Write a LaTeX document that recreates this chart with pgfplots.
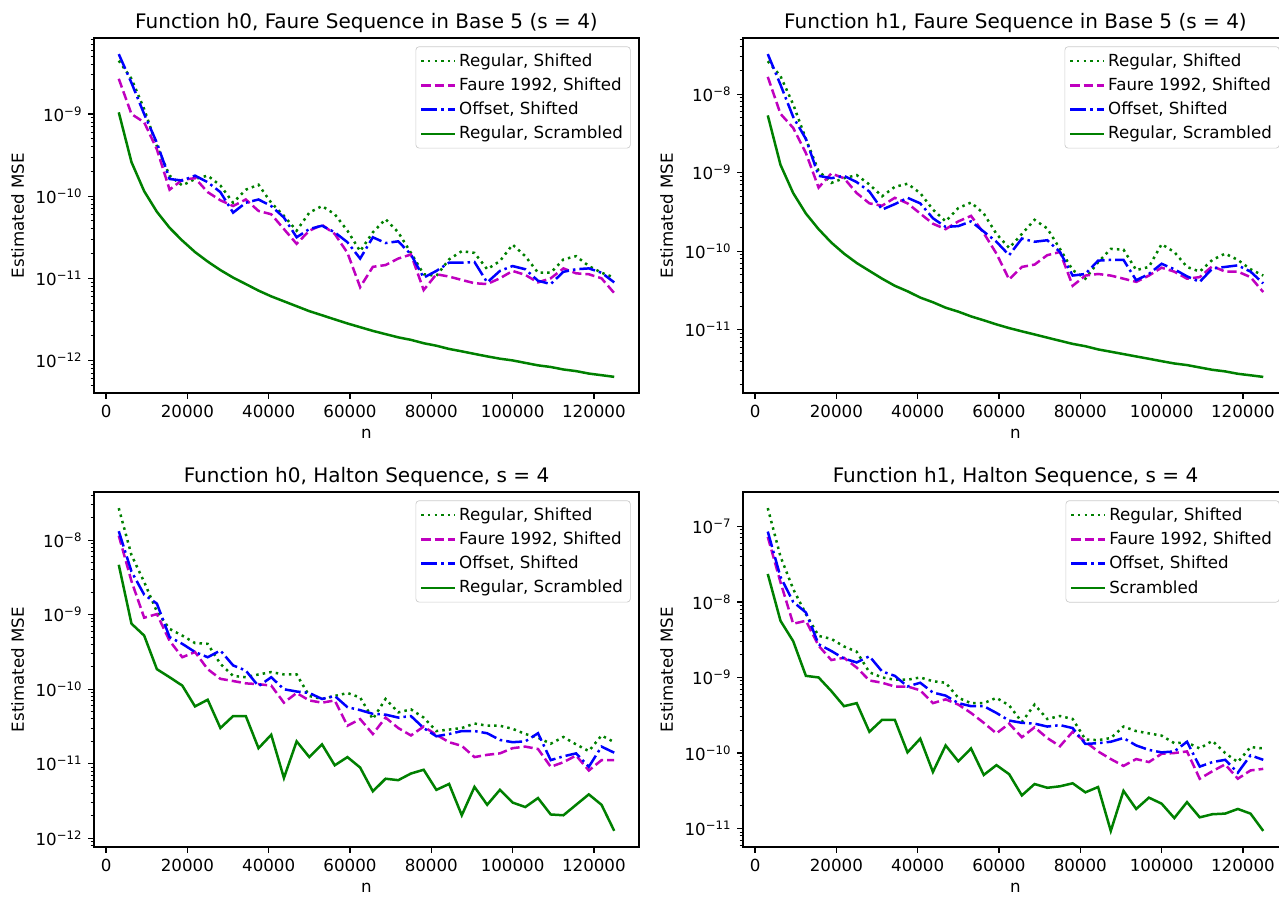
\documentclass[border=0pt]{standalone}
\usepackage{fontspec}
\setmainfont{DejaVu Sans}
\usepackage{pgfplots}
\usepackage{pgfplotstable}
\pgfplotsset{compat=1.18}

\definecolor{mplg}{rgb}{0,0.5,0}
\definecolor{mplm}{rgb}{0.75,0,0.75}
\definecolor{mplb}{rgb}{0,0,1}

% columns: n, regular shifted, faure 1992 shifted, offset shifted, scrambled
\pgfplotstableread{
n rs f92 off scr
3125 4.47e-9 2.69e-9 5.37e-9 1.05e-9
6250 2.69e-9 1.00e-9 2.40e-9 2.60e-10
9375 1.15e-9 7.94e-10 1.00e-9 1.15e-10
12500 4.07e-10 3.72e-10 4.47e-10 6.46e-11
15625 1.78e-10 1.20e-10 1.62e-10 4.12e-11
18750 1.35e-10 1.58e-10 1.55e-10 2.88e-11
21875 1.62e-10 1.66e-10 1.78e-10 2.09e-11
25000 1.78e-10 1.12e-10 1.48e-10 1.60e-11
28125 1.35e-10 8.91e-11 1.12e-10 1.26e-11
31250 8.32e-11 7.59e-11 6.31e-11 1.02e-11
34375 1.20e-10 9.12e-11 8.32e-11 8.51e-12
37500 1.38e-10 6.61e-11 9.12e-11 7.08e-12
40625 8.32e-11 6.03e-11 7.59e-11 6.03e-12
43750 5.75e-11 3.98e-11 5.50e-11 5.25e-12
46875 3.80e-11 2.63e-11 3.16e-11 4.57e-12
50000 6.31e-11 3.80e-11 3.98e-11 3.98e-12
53125 7.59e-11 4.47e-11 4.37e-11 3.55e-12
56250 6.03e-11 3.47e-11 3.63e-11 3.16e-12
59375 3.80e-11 2.04e-11 2.75e-11 2.82e-12
62500 2.14e-11 7.80e-12 1.74e-11 2.54e-12
65625 3.63e-11 1.38e-11 3.16e-11 2.29e-12
68750 5.25e-11 1.45e-11 2.69e-11 2.09e-12
71875 3.63e-11 1.74e-11 2.82e-11 1.91e-12
75000 2.04e-11 1.95e-11 1.95e-11 1.78e-12
78125 1.12e-11 7.20e-12 1.02e-11 1.62e-12
81250 1.07e-11 1.12e-11 1.23e-11 1.51e-12
84375 1.70e-11 1.05e-11 1.55e-11 1.38e-12
87500 2.14e-11 9.55e-12 1.55e-11 1.29e-12
90625 2.04e-11 8.71e-12 1.58e-11 1.20e-12
93750 1.29e-11 8.51e-12 8.91e-12 1.12e-12
96875 1.62e-11 1.00e-11 1.23e-11 1.05e-12
100000 2.57e-11 1.23e-11 1.41e-11 1.00e-12
103125 1.86e-11 1.10e-11 1.29e-11 9.33e-13
106250 1.17e-11 8.91e-12 9.33e-12 8.71e-13
109375 1.17e-11 1.00e-11 8.51e-12 8.32e-13
112500 1.70e-11 1.32e-11 1.20e-11 7.76e-13
115625 1.86e-11 1.15e-11 1.29e-11 7.41e-13
118750 1.41e-11 1.12e-11 1.32e-11 6.92e-13
121875 1.17e-11 1.00e-11 1.17e-11 6.61e-13
125000 1.02e-11 6.61e-12 8.91e-12 6.31e-13
}\tabTL

\pgfplotstableread{
n rs f92 off scr
3125 2.63e-8 1.66e-8 3.24e-8 5.37e-9
6250 1.70e-8 5.62e-9 1.32e-8 1.26e-9
9375 7.41e-9 3.72e-9 5.13e-9 5.50e-10
12500 2.69e-9 1.78e-9 2.69e-9 3.02e-10
15625 1.05e-9 6.46e-10 9.12e-10 1.91e-10
18750 7.41e-10 9.77e-10 8.51e-10 1.29e-10
21875 8.51e-10 8.51e-10 9.12e-10 9.33e-11
25000 9.33e-10 5.50e-10 7.59e-10 7.08e-11
28125 7.08e-10 4.07e-10 5.75e-10 5.62e-11
31250 5.01e-10 3.80e-10 3.39e-10 4.47e-11
34375 6.61e-10 4.79e-10 3.98e-10 3.63e-11
37500 7.24e-10 4.07e-10 4.79e-10 3.09e-11
40625 5.50e-10 3.02e-10 4.07e-10 2.57e-11
43750 3.39e-10 2.24e-10 2.63e-10 2.24e-11
46875 2.40e-10 1.91e-10 2.04e-10 1.91e-11
50000 3.55e-10 2.40e-10 2.09e-10 1.70e-11
53125 4.17e-10 2.82e-10 2.40e-10 1.48e-11
56250 3.02e-10 1.70e-10 1.78e-10 1.32e-11
59375 1.66e-10 9.33e-11 1.32e-10 1.17e-11
62500 1.10e-10 4.37e-11 8.91e-11 1.05e-11
65625 1.66e-10 6.31e-11 1.45e-10 9.55e-12
68750 2.51e-10 6.76e-11 1.32e-10 8.71e-12
71875 1.95e-10 8.91e-11 1.38e-10 7.94e-12
75000 1.07e-10 9.77e-11 9.77e-11 7.24e-12
78125 5.75e-11 3.63e-11 4.90e-11 6.61e-12
81250 4.47e-11 4.90e-11 5.13e-11 6.17e-12
84375 7.24e-11 5.13e-11 7.59e-11 5.62e-12
87500 1.07e-10 4.90e-11 7.76e-11 5.25e-12
90625 1.05e-10 4.47e-11 7.76e-11 4.90e-12
93750 5.75e-11 4.07e-11 4.27e-11 4.57e-12
96875 6.31e-11 4.90e-11 5.13e-11 4.27e-12
100000 1.23e-10 6.17e-11 6.92e-11 3.98e-12
103125 9.77e-11 5.50e-11 5.89e-11 3.72e-12
106250 6.31e-11 4.47e-11 4.79e-11 3.55e-12
109375 5.50e-11 4.68e-11 4.07e-11 3.31e-12
112500 7.76e-11 6.46e-11 6.03e-11 3.09e-12
115625 9.33e-11 5.50e-11 6.31e-11 2.95e-12
118750 7.76e-11 5.50e-11 6.61e-11 2.75e-12
121875 5.89e-11 4.68e-11 5.50e-11 2.63e-12
125000 4.90e-11 3.02e-11 3.89e-11 2.51e-12
}\tabTR

\pgfplotstableread{
n rs f92 off scr
3125 2.69e-8 1.15e-8 1.32e-8 4.68e-9
6250 6.31e-9 2.82e-9 3.80e-9 7.59e-10
9375 2.75e-9 9.12e-10 1.86e-9 5.25e-10
12500 1.10e-9 1.02e-9 1.41e-9 1.86e-10
15625 6.46e-10 4.47e-10 5.01e-10 1.45e-10
18750 5.25e-10 2.69e-10 4.07e-10 1.12e-10
21875 4.17e-10 3.16e-10 3.16e-10 5.89e-11
25000 4.07e-10 1.86e-10 2.69e-10 7.24e-11
28125 2.19e-10 1.38e-10 3.31e-10 3.02e-11
31250 1.51e-10 1.29e-10 2.09e-10 4.37e-11
34375 1.45e-10 1.20e-10 1.78e-10 4.37e-11
37500 1.58e-10 1.17e-10 1.10e-10 1.62e-11
40625 1.70e-10 1.12e-10 1.45e-10 2.45e-11
43750 1.58e-10 6.61e-11 1.00e-10 6.46e-12
46875 1.58e-10 8.91e-11 9.33e-11 2.00e-11
50000 8.13e-11 7.08e-11 8.91e-11 1.23e-11
53125 7.41e-11 6.61e-11 7.41e-11 1.82e-11
56250 8.13e-11 7.08e-11 8.13e-11 9.55e-12
59375 8.91e-11 3.24e-11 5.75e-11 1.23e-11
62500 7.76e-11 3.98e-11 5.25e-11 8.91e-12
65625 3.98e-11 2.51e-11 4.68e-11 4.27e-12
68750 7.41e-11 4.17e-11 4.57e-11 6.31e-12
71875 4.90e-11 3.02e-11 4.17e-11 6.03e-12
75000 5.37e-11 2.40e-11 4.37e-11 7.41e-12
78125 4.17e-11 3.16e-11 3.02e-11 8.32e-12
81250 2.75e-11 2.45e-11 2.34e-11 4.47e-12
84375 2.88e-11 1.95e-11 2.51e-11 5.37e-12
87500 3.02e-11 1.74e-11 2.75e-11 2.04e-12
90625 3.47e-11 1.23e-11 2.75e-11 4.90e-12
93750 3.24e-11 1.32e-11 2.57e-11 2.82e-12
96875 3.24e-11 1.38e-11 2.09e-11 4.47e-12
100000 2.95e-11 1.62e-11 1.95e-11 3.02e-12
103125 2.51e-11 1.70e-11 2.00e-11 2.63e-12
106250 2.24e-11 1.58e-11 2.57e-11 3.47e-12
109375 1.86e-11 9.12e-12 1.12e-11 2.09e-12
112500 2.29e-11 1.05e-11 1.26e-11 2.04e-12
115625 1.82e-11 1.29e-11 1.38e-11 2.82e-12
118750 1.48e-11 8.13e-12 9.12e-12 3.89e-12
121875 2.40e-11 1.12e-11 1.70e-11 2.82e-12
125000 1.95e-11 1.12e-11 1.41e-11 1.26e-12
}\tabBL

\pgfplotstableread{
n rs f92 off scr
3125 1.74e-7 7.24e-8 8.51e-8 2.34e-8
6250 3.98e-8 1.82e-8 2.14e-8 5.62e-9
9375 1.48e-8 5.13e-9 1.00e-8 3.02e-9
12500 6.92e-9 5.62e-9 7.24e-9 1.05e-9
15625 3.55e-9 2.63e-9 2.75e-9 1.00e-9
18750 3.24e-9 1.70e-9 2.24e-9 6.61e-10
21875 2.57e-9 1.82e-9 1.78e-9 4.17e-10
25000 2.19e-9 1.35e-9 1.58e-9 4.57e-10
28125 1.17e-9 9.12e-10 1.91e-9 1.91e-10
31250 1.00e-9 8.51e-10 1.20e-9 2.75e-10
34375 9.33e-10 7.59e-10 1.05e-9 2.75e-10
37500 9.33e-10 7.59e-10 7.59e-10 1.02e-10
40625 1.00e-9 6.76e-10 8.51e-10 1.55e-10
43750 8.91e-10 4.57e-10 6.31e-10 5.62e-11
46875 8.51e-10 5.13e-10 5.75e-10 1.26e-10
50000 5.37e-10 4.37e-10 4.57e-10 7.76e-11
53125 4.57e-10 3.39e-10 4.17e-10 1.15e-10
56250 4.57e-10 2.51e-10 4.17e-10 5.13e-11
59375 5.37e-10 1.82e-10 3.39e-10 6.92e-11
62500 4.27e-10 2.45e-10 2.69e-10 5.25e-11
65625 2.57e-10 1.62e-10 2.51e-10 2.75e-11
68750 4.37e-10 2.19e-10 2.45e-10 3.89e-11
71875 2.82e-10 1.58e-10 2.24e-10 3.47e-11
75000 3.09e-10 1.23e-10 2.34e-10 3.63e-11
78125 2.82e-10 1.91e-10 2.14e-10 3.98e-11
81250 1.51e-10 1.41e-10 1.32e-10 3.02e-11
84375 1.48e-10 1.05e-10 1.35e-10 3.55e-11
87500 1.58e-10 8.32e-11 1.41e-10 9.33e-12
90625 2.24e-10 6.76e-11 1.58e-10 3.16e-11
93750 1.95e-10 8.32e-11 1.26e-10 1.82e-11
96875 1.82e-10 7.59e-11 1.10e-10 2.57e-11
100000 1.70e-10 9.77e-11 1.02e-10 2.14e-11
103125 1.35e-10 1.00e-10 1.05e-10 1.38e-11
106250 1.38e-10 1.05e-10 1.41e-10 2.24e-11
109375 1.15e-10 4.57e-11 6.61e-11 1.41e-11
112500 1.45e-10 5.75e-11 7.59e-11 1.55e-11
115625 1.00e-10 7.08e-11 8.13e-11 1.58e-11
118750 7.59e-11 4.57e-11 5.50e-11 1.82e-11
121875 1.20e-10 5.89e-11 9.33e-11 1.58e-11
125000 1.15e-10 6.17e-11 8.13e-11 9.33e-12
}\tabBR

\pgfplotsset{
  every axis/.append style={
    scale only axis, width=327pt, height=213pt,
    anchor=south west,
    xmin=-2968.75, xmax=131093.75,
    xtick={0,20000,40000,60000,80000,100000,120000},
    scaled x ticks=false,
    xticklabel={\pgfmathprintnumber[fixed,precision=0,1000 sep={},assume math mode=true]{\tick}},
    yticklabel={\pgfmathtruncatemacro{\myexp}{round(-\tick)}10\textsuperscript{−\myexp}},
    tick align=outside, tick pos=left,
    major tick length=3.5pt, minor tick length=2pt,
    every tick/.style={black, line width=0.8pt},
    every minor tick/.style={black, line width=0.6pt},
    axis line style={black, line width=0.8pt},
    tick label style={font=\fontsize{10}{12}\selectfont},
    label style={font=\fontsize{10}{12}\selectfont},
    title style={font=\fontsize{12}{14.4}\selectfont, anchor=base},
    xlabel={n}, ylabel={Estimated MSE},
    legend style={at={(1,1)}, xshift=-5pt, yshift=-5pt, anchor=north east,
      draw=black!20, rounded corners=2pt, fill=white,
      font=\fontsize{10}{12}\selectfont, inner xsep=2.5pt, inner ysep=2pt,
      row sep=1.5pt, cells={anchor=west}},
  },
  legend image code/.code={\draw[#1] (0pt,0pt) -- (20pt,0pt);},
  rsline/.style={mplg, line width=1.5pt, dash pattern=on 1.5pt off 2.475pt},
  fline/.style={mplm, line width=1.5pt, dash pattern=on 5.55pt off 2.4pt},
  oline/.style={mplb, line width=1.5pt, dash pattern=on 9.6pt off 2.4pt on 1.5pt off 2.4pt},
  sline/.style={mplg, line width=1.5pt, solid},
}

\begin{document}
\begin{tikzpicture}

\begin{axis}[ymode=log, log basis y=10, at={(56.4pt,302.4pt)},
  ymin=4.01e-13, ymax=8.44e-9,
  title={Function h0, Faure Sequence in Base 5 (s = 4)}]
\addplot[rsline] table[x=n,y=rs] {\tabTL};
\addplot[fline] table[x=n,y=f92] {\tabTL};
\addplot[oline] table[x=n,y=off] {\tabTL};
\addplot[sline] table[x=n,y=scr] {\tabTL};
\legend{{Regular, Shifted}, {Faure 1992, Shifted}, {Offset, Shifted}, {Regular, Scrambled}}
\end{axis}

\begin{axis}[ymode=log, log basis y=10, at={(445.8pt,302.4pt)},
  ymin=1.565e-12, ymax=5.19e-8,
  title={Function h1, Faure Sequence in Base 5 (s = 4)}]
\addplot[rsline] table[x=n,y=rs] {\tabTR};
\addplot[fline] table[x=n,y=f92] {\tabTR};
\addplot[oline] table[x=n,y=off] {\tabTR};
\addplot[sline] table[x=n,y=scr] {\tabTR};
\legend{{Regular, Shifted}, {Faure 1992, Shifted}, {Offset, Shifted}, {Regular, Scrambled}}
\end{axis}

\begin{axis}[ymode=log, log basis y=10, at={(56.4pt,30pt)},
  ymin=7.65e-13, ymax=4.43e-8,
  title={Function h0, Halton Sequence, s = 4}]
\addplot[rsline] table[x=n,y=rs] {\tabBL};
\addplot[fline] table[x=n,y=f92] {\tabBL};
\addplot[oline] table[x=n,y=off] {\tabBL};
\addplot[sline] table[x=n,y=scr] {\tabBL};
\legend{{Regular, Shifted}, {Faure 1992, Shifted}, {Offset, Shifted}, {Regular, Scrambled}}
\end{axis}

\begin{axis}[ymode=log, log basis y=10, at={(445.8pt,30pt)},
  ymin=5.71e-12, ymax=2.84e-7,
  title={Function h1, Halton Sequence, s = 4}]
\addplot[rsline] table[x=n,y=rs] {\tabBR};
\addplot[fline] table[x=n,y=f92] {\tabBR};
\addplot[oline] table[x=n,y=off] {\tabBR};
\addplot[sline] table[x=n,y=scr] {\tabBR};
\legend{{Regular, Shifted}, {Faure 1992, Shifted}, {Offset, Shifted}, {Scrambled}}
\end{axis}

\pgfresetboundingbox
\useasboundingbox (0,0) rectangle (767.4pt,538.2pt);
\end{tikzpicture}
\end{document}
